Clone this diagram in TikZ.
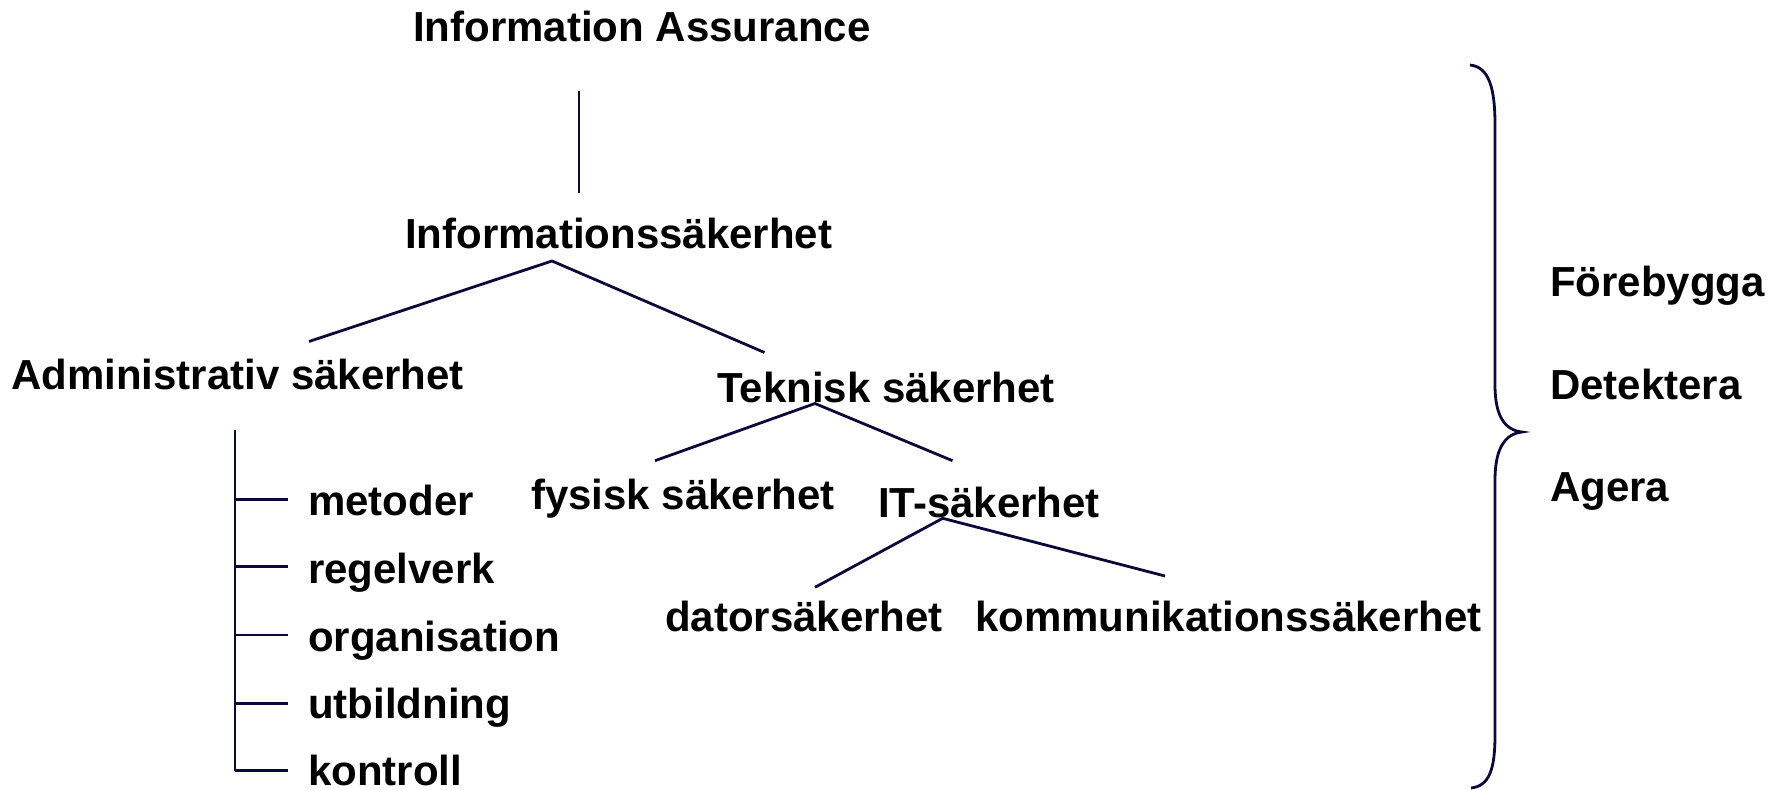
\documentclass[tikz,border=0pt]{standalone}
\usepackage{fontspec}
\setmainfont{Liberation Sans}
\definecolor{navy}{RGB}{10,10,58}
\begin{document}
\begin{tikzpicture}[x=1pt,y=-1pt,
  txt/.style={anchor=base west, inner sep=0pt, font=\bfseries\fontsize{42}{50}\selectfont},
  conn/.style={draw=navy, line width=2.8pt}]
\useasboundingbox (0,0) rectangle (1781,790);

% text nodes
\node[txt] (ia) at (413,41) {Information Assurance};
\node[txt] (is) at (405,248) {Informationssäkerhet};
\node[txt] (as) at (11,389) {Administrativ säkerhet};
\node[txt] (ts) at (717,402) {Teknisk säkerhet};
\node[txt] (fs) at (531,509) {fysisk säkerhet};
\node[txt] (it) at (878,517) {IT-säkerhet};
\node[txt] (ds) at (665,631.5) {datorsäkerhet};
\node[txt] (ks) at (975,631.5) {kommunikationssäkerhet};
\node[txt] (m1) at (308,515) {metoder};
\node[txt] (m2) at (308,583.3) {regelverk};
\node[txt] (m3) at (308,651.7) {organisation};
\node[txt] (m4) at (308,718.3) {utbildning};
\node[txt] (m5) at (308,785.5) {kontroll};
\node[txt] (r1) at (1550,296.7) {Förebygga};
\node[txt] (r2) at (1550,399) {Detektera};
\node[txt] (r3) at (1550,501.7) {Agera};

% connector end points
\coordinate (ia-b) at (579,91);
\coordinate (is-t) at (579,193);
\coordinate (is-b) at (552,261);
\coordinate (as-t) at (309,341.5);
\coordinate (ts-t) at (764.5,352.5);
\coordinate (ts-b) at (815,403.5);
\coordinate (fs-t) at (655,460.7);
\coordinate (it-t) at (952.5,460.7);
\coordinate (it-b) at (942.7,518.3);
\coordinate (ds-t) at (815,587.3);
\coordinate (ks-t) at (1165,576);
\coordinate (as-b) at (235,430);
\coordinate (b1) at (235,499.3);
\coordinate (b2) at (235,566.7);
\coordinate (b3) at (235,635);
\coordinate (b4) at (235,703.3);
\coordinate (b5) at (235,770.7);
\coordinate (e1) at (288,499.3);
\coordinate (e2) at (288,566.7);
\coordinate (e3) at (288,635);
\coordinate (e4) at (288,703.3);
\coordinate (e5) at (288,770.7);

% tree connectors
\draw[conn] (ia-b) -- (is-t);
\draw[conn] (as-t) -- (is-b) -- (ts-t);
\draw[conn] (fs-t) -- (ts-b) -- (it-t);
\draw[conn] (ds-t) -- (it-b) -- (ks-t);
\draw[conn] (as-b) -- (b5);
\draw[conn] (b1) -- (e1);
\draw[conn] (b2) -- (e2);
\draw[conn] (b3) -- (e3);
\draw[conn] (b4) -- (e4);
\draw[conn] (b5) -- (e5);

% brace
\coordinate (br-top) at (1470,65);
\coordinate (br-tip) at (1522,432);
\coordinate (br-bot) at (1471,788);
\draw[conn] (br-top) .. controls (1489,67) and (1495,88) .. (1495,125)
  -- (1495,385) .. controls (1495,415) and (1504,430) .. (br-tip)
  .. controls (1504,434) and (1495,450) .. (1495,480)
  -- (1495,735) .. controls (1495,770) and (1489,786) .. (br-bot);
\end{tikzpicture}
\end{document}
